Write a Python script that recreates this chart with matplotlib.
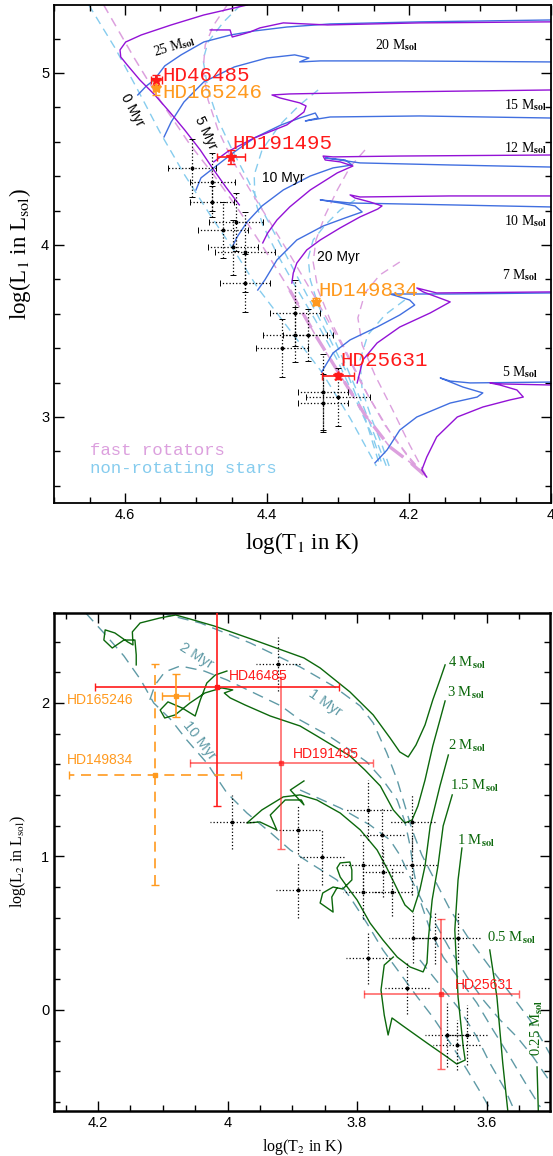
import numpy as np
import matplotlib
matplotlib.use("Agg")
import matplotlib.pyplot as plt
from matplotlib.ticker import MultipleLocator, FuncFormatter

plt.rcParams['font.family'] = ['Liberation Sans', 'DejaVu Sans']
plt.rcParams['mathtext.fontset'] = 'stix'

# ================= TOP PANEL DATA (log T1, log L1) =================
# non-rotating tracks
nr25_T = [4.582, 4.570, 4.559, 4.544, 4.521, 4.489, 4.451, 4.418, 4.372, 4.311, 4.185, 4.000]
nr25_L = [4.872, 4.924, 4.959, 5.041, 5.105, 5.180, 5.221, 5.244, 5.267, 5.285, 5.297, 5.308]
nr20_T = [4.545, 4.535, 4.517, 4.489, 4.446, 4.400, 4.361, 4.341, 4.354, 4.325, 4.213, 4.000]
nr20_L = [4.628, 4.715, 4.831, 4.948, 5.035, 5.087, 5.105, 5.087, 5.064, 5.070, 5.070, 5.064]
nr15_T = [4.500, 4.493, 4.475, 4.446, 4.418, 4.380, 4.354, 4.332, 4.328, 4.346, 4.311, 4.185, 4.000]
nr15_L = [4.320, 4.390, 4.448, 4.541, 4.622, 4.698, 4.738, 4.767, 4.738, 4.721, 4.744, 4.750, 4.738]
nr12_T = [4.449, 4.442, 4.428, 4.407, 4.377, 4.339, 4.307, 4.280, 4.290, 4.318, 4.269, 4.142, 4.000]
nr12_L = [3.988, 4.047, 4.134, 4.227, 4.320, 4.401, 4.448, 4.465, 4.494, 4.506, 4.477, 4.465, 4.453]
nr10_T = [4.413, 4.403, 4.386, 4.358, 4.321, 4.290, 4.266, 4.276, 4.297, 4.325, 4.283, 4.142, 4.000]
nr10_L = [3.738, 3.797, 3.913, 4.029, 4.110, 4.157, 4.192, 4.227, 4.244, 4.262, 4.244, 4.233, 4.221]
nr7_T = [4.323, 4.307, 4.283, 4.245, 4.213, 4.192, 4.199, 4.217, 4.227, 4.142, 4.000]
nr7_L = [3.262, 3.372, 3.448, 3.523, 3.593, 3.651, 3.680, 3.703, 3.715, 3.715, 3.721]
nr5_T = [4.248, 4.231, 4.213, 4.189, 4.142, 4.104, 4.096, 4.124, 4.156, 4.142, 4.114, 4.000]
nr5_L = [2.733, 2.808, 2.924, 3.000, 3.081, 3.116, 3.140, 3.174, 3.227, 3.209, 3.198, 3.203]

# fast-rotating tracks
rot25_T = [4.439, 4.458, 4.475, 4.494, 4.516, 4.537, 4.558, 4.579, 4.597, 4.606, 4.607, 4.599, 4.577, 4.535, 4.489, 4.428]
rot25_L = [4.233, 4.337, 4.436, 4.552, 4.669, 4.773, 4.872, 4.959, 5.047, 5.093, 5.134, 5.180, 5.221, 5.279, 5.337, 5.395]
rot20_T = [4.480, 4.452, 4.449, 4.438, 4.424, 4.410, 4.377, 4.315, 4.185, 4.000]
rot20_L = [5.250, 5.250, 5.209, 5.221, 5.238, 5.262, 5.291, 5.279, 5.291, 5.297]
rot15_T = [4.475, 4.456, 4.418, 4.372, 4.348, 4.345, 4.354, 4.382, 4.393, 4.368, 4.213, 4.000]
rot15_L = [4.483, 4.541, 4.622, 4.698, 4.773, 4.808, 4.826, 4.855, 4.872, 4.878, 4.890, 4.901]
rot12_T = [4.406, 4.399, 4.386, 4.368, 4.339, 4.301, 4.279, 4.297, 4.318, 4.321, 4.307, 4.213, 4.000]
rot12_L = [4.012, 4.070, 4.145, 4.221, 4.320, 4.419, 4.459, 4.483, 4.494, 4.517, 4.512, 4.517, 4.523]
rot10_T = [4.365, 4.363, 4.358, 4.344, 4.325, 4.297, 4.269, 4.244, 4.238, 4.255, 4.276, 4.283, 4.269, 4.142, 4.000]
rot10_L = [3.779, 3.837, 3.895, 3.971, 4.029, 4.099, 4.163, 4.209, 4.227, 4.250, 4.273, 4.291, 4.279, 4.285, 4.285]
rot7_T = [4.273, 4.265, 4.245, 4.213, 4.170, 4.142, 4.161, 4.180, 4.189, 4.161, 4.000]
rot7_L = [3.198, 3.331, 3.430, 3.523, 3.605, 3.669, 3.698, 3.727, 3.750, 3.721, 3.727]
rot5_T = [4.175, 4.182, 4.175, 4.161, 4.132, 4.096, 4.058, 4.039, 4.048, 4.072, 4.086, 4.068, 4.000]
rot5_L = [2.651, 2.692, 2.767, 2.884, 3.000, 3.058, 3.099, 3.116, 3.157, 3.186, 3.198, 3.192, 3.186]

# non-rotating isochrones
iso0_T = [4.651, 4.614, 4.582, 4.551, 4.516, 4.480, 4.445, 4.413, 4.368, 4.323, 4.283, 4.246]
iso0_L = [5.395, 5.145, 4.901, 4.657, 4.407, 4.174, 3.959, 3.750, 3.506, 3.262, 2.994, 2.715]
iso5_T = [4.437, 4.461, 4.483, 4.490, 4.483, 4.469, 4.449, 4.427, 4.403, 4.377, 4.349, 4.318, 4.286, 4.261, 4.241]
iso5_L = [5.395, 5.297, 5.180, 5.076, 4.901, 4.727, 4.552, 4.378, 4.174, 3.971, 3.750, 3.506, 3.244, 2.983, 2.715]
iso10_T = [4.328, 4.354, 4.382, 4.407, 4.418, 4.417, 4.406, 4.385, 4.361, 4.332, 4.301, 4.275, 4.252, 4.237]
iso10_L = [4.901, 4.814, 4.698, 4.552, 4.407, 4.262, 4.116, 3.942, 3.767, 3.564, 3.331, 3.099, 2.895, 2.715]
iso20_T = [4.276, 4.297, 4.318, 4.335, 4.342, 4.339, 4.328, 4.308, 4.286, 4.265, 4.246, 4.232]
iso20_L = [4.262, 4.203, 4.116, 4.029, 3.924, 3.797, 3.651, 3.477, 3.273, 3.070, 2.866, 2.715]
iso30_T = [4.206, 4.234, 4.258, 4.269, 4.266, 4.252, 4.238, 4.228]
iso30_L = [3.680, 3.593, 3.477, 3.331, 3.157, 2.983, 2.837, 2.715]

# fast-rotator isochrones
riso0_T = [4.630, 4.587, 4.551, 4.508, 4.475, 4.438, 4.403, 4.368, 4.332, 4.297, 4.262, 4.227, 4.199, 4.175]
riso0_L = [5.395, 5.087, 4.843, 4.581, 4.407, 4.192, 3.971, 3.738, 3.477, 3.244, 3.012, 2.826, 2.738, 2.651]
riso5_T = [4.456, 4.475, 4.487, 4.490, 4.483, 4.469, 4.449, 4.424, 4.396, 4.365, 4.332, 4.297, 4.266, 4.234, 4.199, 4.175]
riso5_L = [5.395, 5.279, 5.163, 5.017, 4.843, 4.669, 4.494, 4.320, 4.134, 3.924, 3.692, 3.436, 3.186, 2.953, 2.762, 2.651]
riso10_T = [4.262, 4.283, 4.301, 4.318, 4.331, 4.335, 4.328, 4.311, 4.286, 4.258, 4.227, 4.196, 4.175]
riso10_L = [4.552, 4.453, 4.320, 4.174, 4.029, 3.901, 3.738, 3.564, 3.360, 3.128, 2.913, 2.738, 2.651]
riso20_T = [4.213, 4.241, 4.262, 4.272, 4.266, 4.248, 4.223, 4.199, 4.175]
riso20_L = [3.901, 3.826, 3.721, 3.576, 3.419, 3.244, 3.041, 2.837, 2.651]

# observed stars (dotted crosses)
top_T = [4.506, 4.477, 4.477, 4.462, 4.448, 4.431, 4.431, 4.444, 4.361, 4.361, 4.342, 4.379, 4.321, 4.300, 4.321]
top_L = [4.448, 4.366, 4.250, 4.087, 3.988, 3.959, 3.779, 4.134, 3.605, 3.477, 3.477, 3.401, 3.145, 3.116, 3.081]
top_Terr = [0.034, 0.032, 0.031, 0.035, 0.035, 0.042, 0.035, 0.038, 0.035, 0.045, 0.035, 0.037, 0.035, 0.045, 0.035]
top_Lerr = [0.17, 0.17, 0.09, 0.16, 0.16, 0.23, 0.17, 0.17, 0.19, 0.16, 0.15, 0.17, 0.22, 0.17, 0.17]

# highlighted binaries (primary)
hl_names = ['HD46485', 'HD165246', 'HD191495', 'HD149834', 'HD25631']
hl_colors = ['#ff1a1a', '#ff9a1f', '#ff1a1a', '#ff9a1f', '#ff1a1a']
hl1_T = [4.556, 4.556, 4.451, 4.331, 4.300]
hl1_L = [4.959, 4.913, 4.512, 3.669, 3.238]
hl1_Terr = [0.008, 0.004, 0.020, 0.004, 0.022]
hl1_Lerr = [0.030, 0.040, 0.040, 0.020, 0.020]
hl1_lab_T = [4.548, 4.548, 4.449, 4.328, 4.297]
hl1_lab_L = [4.985, 4.887, 4.587, 3.738, 3.331]

# ================= BOTTOM PANEL DATA (log T2, log L2) =================
pms4_T = [3.664, 3.672, 3.683, 3.695, 3.709, 3.721, 3.734, 3.749, 3.775, 3.811, 3.857, 3.882, 3.959, 4.021,
          4.058, 4.080, 4.104, 4.135, 4.147, 4.146, 4.154, 4.174, 4.189, 4.191, 4.178, 4.160, 4.143, 4.141, 4.141]
pms4_L = [2.248, 2.150, 2.020, 1.857, 1.726, 1.648, 1.681, 1.772, 1.922, 2.072, 2.228, 2.293, 2.410, 2.502,
          2.547, 2.573, 2.554, 2.521, 2.463, 2.378, 2.397, 2.456, 2.476, 2.410, 2.358, 2.410, 2.410, 2.313, 2.248]
pms3_T = [3.664, 3.672, 3.683, 3.695, 3.706, 3.715, 3.726, 3.744, 3.764, 3.788, 3.811, 3.862, 3.888, 3.934,
          3.973, 3.996, 4.005, 3.992, 4.009, 4.035, 4.058, 4.081, 4.097, 4.104, 4.092, 4.070, 4.050, 4.042,
          4.032, 4.019, 4.001]
pms3_L = [2.013, 1.889, 1.720, 1.498, 1.329, 1.238, 1.218, 1.303, 1.459, 1.564, 1.655, 1.785, 1.850, 1.915,
          1.987, 2.033, 2.065, 2.085, 2.098, 2.065, 2.000, 1.922, 1.902, 1.954, 2.007, 1.967, 1.915, 2.020,
          2.130, 2.182, 2.208]
pms2_T = [3.659, 3.672, 3.687, 3.695, 3.703, 3.714, 3.726, 3.741, 3.754, 3.769, 3.795, 3.826, 3.862, 3.888,
          3.914, 3.947, 3.970, 3.950, 3.924, 3.934, 3.911, 3.886, 3.882, 3.903, 3.882]
pms2_L = [1.661, 1.459, 1.199, 0.938, 0.782, 0.638, 0.684, 0.814, 0.925, 1.042, 1.173, 1.283, 1.368, 1.401,
          1.388, 1.303, 1.218, 1.225, 1.173, 1.270, 1.368, 1.368, 1.336, 1.433, 1.492]
pms15_T = [3.653, 3.667, 3.675, 3.684, 3.690, 3.692, 3.698, 3.718, 3.738, 3.760, 3.780, 3.800, 3.815, 3.826,
           3.831, 3.826, 3.811, 3.808, 3.808, 3.822, 3.837, 3.853, 3.857, 3.837, 3.839, 3.831]
pms15_L = [1.401, 1.199, 0.938, 0.717, 0.456, 0.306, 0.248, 0.280, 0.345, 0.456, 0.567, 0.717, 0.801, 0.866,
           0.925, 0.958, 0.964, 0.912, 0.847, 0.788, 0.801, 0.762, 0.697, 0.638, 0.736, 0.795]
pms1_T = [3.638, 3.644, 3.649, 3.644, 3.636, 3.633, 3.646, 3.661, 3.692, 3.729, 3.746, 3.752, 3.758, 3.763, 3.758, 3.744]
pms1_L = [1.055, 0.847, 0.521, 0.085, -0.241, -0.326, -0.352, -0.306, -0.215, -0.104, -0.052, -0.163, -0.033,
          0.130, 0.293, 0.345]
pms05_T = [3.595, 3.584, 3.575, 3.567]
pms05_L = [0.391, 0.085, -0.345, -0.664]
pms025_T = [3.522, 3.520]
pms025_L = [-0.371, -0.664]

# PMS isochrones
biso1_T = [4.104, 4.042, 3.965, 3.888, 3.837, 3.795, 3.775, 3.754, 3.738, 3.726, 3.715, 3.700, 3.680, 3.656,
           3.626, 3.595, 3.564, 3.533, 3.510, 3.497]
biso1_L = [2.586, 2.521, 2.391, 2.235, 2.111, 1.980, 1.870, 1.674, 1.498, 1.329, 1.173, 1.010, 0.847, 0.651,
           0.456, 0.280, 0.111, -0.065, -0.228, -0.326]
biso2_T = [4.120, 4.112, 4.097, 4.073, 4.036, 4.001, 3.959, 3.917, 3.888, 3.846, 3.811, 3.785, 3.760, 3.738,
           3.726, 3.718, 3.712, 3.703, 3.687, 3.667, 3.641, 3.615, 3.590, 3.564, 3.541, 3.517]
biso2_L = [2.020, 2.117, 2.202, 2.241, 2.208, 2.150, 2.065, 1.980, 1.889, 1.792, 1.694, 1.616, 1.498, 1.368,
           1.225, 1.068, 0.893, 0.717, 0.521, 0.345, 0.195, 0.046, -0.130, -0.306, -0.469, -0.632]
biso5_T = [3.888, 3.826, 3.780, 3.749, 3.734, 3.718, 3.698, 3.676, 3.656, 3.630, 3.605, 3.579, 3.553, 3.528,
           3.507, 3.497]
biso5_L = [1.433, 1.316, 1.205, 1.107, 1.010, 0.866, 0.697, 0.541, 0.391, 0.215, 0.065, -0.065, -0.176, -0.306,
           -0.436, -0.502]
biso10_T = [4.219, 4.191, 4.160, 4.134, 4.114, 4.087, 4.063, 4.032, 4.001, 3.970, 3.933, 3.903, 3.873, 3.831,
            3.811, 3.785, 3.760, 3.734, 3.707, 3.683, 3.656, 3.630, 3.605, 3.592]
biso10_L = [2.586, 2.456, 2.306, 2.150, 2.000, 1.889, 1.759, 1.609, 1.414, 1.283, 1.153, 1.042, 0.958, 0.847,
            0.736, 0.567, 0.391, 0.241, 0.085, -0.046, -0.215, -0.391, -0.567, -0.664]
biso20_T = [3.703, 3.672, 3.641, 3.615, 3.595, 3.571, 3.556]
biso20_L = [0.326, 0.163, 0.000, -0.176, -0.345, -0.521, -0.664]

bot_T = [3.922, 3.993, 3.891, 3.854, 3.891, 3.783, 3.715, 3.761, 3.791, 3.715, 3.760, 3.791, 3.746, 3.714,
         3.680, 3.644, 3.783, 3.723, 3.661, 3.630, 3.646]
bot_L = [2.254, 1.225, 1.173, 0.997, 0.782, 1.303, 1.225, 1.140, 0.945, 0.945, 0.899, 0.769, 0.769, 0.469,
         0.469, 0.469, 0.339, 0.143, -0.163, -0.163, -0.228]
bot_Terr = [0.034, 0.034, 0.034, 0.034, 0.034, 0.036, 0.036, 0.034, 0.036, 0.039, 0.031, 0.031, 0.031, 0.036,
            0.034, 0.034, 0.034, 0.034, 0.034, 0.031, 0.036]
bot_Lerr = [0.176, 0.176, 0.16, 0.18, 0.18, 0.195, 0.18, 0.18, 0.16, 0.195, 0.16, 0.176, 0.16, 0.16, 0.17,
            0.17, 0.17, 0.17, 0.21, 0.195, 0.16]

# highlighted binaries (secondary)
hl2_T = [4.016, 4.080, 3.917, 4.112, 3.670]
hl2_L = [2.104, 2.046, 1.609, 1.531, 0.104]
hl2_Terr = [0.188, 0.021, 0.141, 0.133, 0.120]
hl2_Lerr = [0.775, 0.140, 0.560, 0.720, 0.490]
hl2_lab_T = [3.998, 4.248, 3.899, 4.248, 3.649]
hl2_lab_L = [2.176, 2.020, 1.668, 1.629, 0.163]

# ================= STYLE =================
PURPLE = '#9312d6'
BLUE = '#416fe0'
LBLUE = '#86ccee'
PINK = '#dca0de'
GREEN = '#0c680c'
TEAL = '#5f9aa6'

fig = plt.figure(figsize=(5.53, 11.56), dpi=100)
ax1 = fig.add_axes([54/553, 1-503/1156, 497/553, 498/1156])
ax2 = fig.add_axes([54/553, 1-1111/1156, 496/553, 498/1156])

serif = ['Liberation Serif', 'DejaVu Serif']
mono = ['Liberation Mono', 'DejaVu Sans Mono']

# ---------- top panel ----------
for T, L in [(iso0_T, iso0_L), (iso5_T, iso5_L), (iso10_T, iso10_L), (iso20_T, iso20_L), (iso30_T, iso30_L)]:
    ax1.plot(T, L, color=LBLUE, lw=1.0, dashes=(6, 4), zorder=1)
for T, L in [(riso5_T, riso5_L), (riso10_T, riso10_L), (riso20_T, riso20_L)]:
    ax1.plot(T, L, color=PINK, lw=1.0, dashes=(6, 4), zorder=1)
ax1.plot(riso0_T, riso0_L, color=PINK, lw=1.1, dashes=(6, 4), zorder=1)
rT = np.array(riso0_T); rL = np.array(riso0_L)
m = rL <= 3.75
ax1.plot(rT[m], rL[m], color=PINK, lw=2.4, dashes=(5, 3), zorder=1)

for T, L in [(nr25_T, nr25_L), (nr20_T, nr20_L), (nr15_T, nr15_L), (nr12_T, nr12_L),
             (nr10_T, nr10_L), (nr7_T, nr7_L), (nr5_T, nr5_L)]:
    ax1.plot(T, L, color=BLUE, lw=1.0, zorder=2)
for T, L in [(rot25_T, rot25_L), (rot20_T, rot20_L), (rot15_T, rot15_L), (rot12_T, rot12_L),
             (rot10_T, rot10_L), (rot7_T, rot7_L), (rot5_T, rot5_L)]:
    ax1.plot(T, L, color=PURPLE, lw=1.0, zorder=2)

eb = ax1.errorbar(top_T, top_L, xerr=top_Terr, yerr=top_Lerr, fmt='o', ms=1.8, color='black',
                  elinewidth=0.9, capsize=2, capthick=0.7, zorder=3)
for c in eb[2]:
    c.set_linestyle(':')

for i in range(len(hl_names)):
    ax1.errorbar(hl1_T[i], hl1_L[i], xerr=hl1_Terr[i], yerr=hl1_Lerr[i], fmt='*', ms=7,
                 color=hl_colors[i], elinewidth=1.2, capsize=3, zorder=5)
    ax1.text(hl1_lab_T[i], hl1_lab_L[i], hl_names[i], color=hl_colors[i], family=mono,
             fontsize=15, ha='left', va='center', zorder=6)

ax1.text(4.530, 5.157, r'25 M$_{\mathbf{sol}}$', rotation=17, ha='center', va='center', fontsize=10, family=serif)
ax1.text(4.217, 5.163, r'20 M$_{\mathbf{sol}}$', ha='center', va='center', fontsize=10, family=serif)
ax1.text(4.006, 4.814, r'15 M$_{\mathbf{sol}}$', ha='right', va='center', fontsize=10, family=serif)
ax1.text(4.006, 4.564, r'12 M$_{\mathbf{sol}}$', ha='right', va='center', fontsize=10, family=serif)
ax1.text(4.006, 4.140, r'10 M$_{\mathbf{sol}}$', ha='right', va='center', fontsize=10, family=serif)
ax1.text(4.018, 3.826, r'7 M$_{\mathbf{sol}}$', ha='right', va='center', fontsize=10, family=serif)
ax1.text(4.018, 3.262, r'5 M$_{\mathbf{sol}}$', ha='right', va='center', fontsize=10, family=serif)
ax1.text(4.589, 4.785, '0 Myr', rotation=-62, ha='center', va='center', fontsize=10)
ax1.text(4.487, 4.651, '5 Myr', rotation=-65, ha='center', va='center', fontsize=10)
ax1.text(4.377, 4.390, '10 Myr', ha='center', va='center', fontsize=10)
ax1.text(4.300, 3.930, '20 Myr', ha='center', va='center', fontsize=10)
ax1.text(4.649, 2.808, 'fast rotators', color=PINK, family=mono, fontsize=12.5, ha='left', va='center')
ax1.text(4.649, 2.703, 'non-rotating stars', color=LBLUE, family=mono, fontsize=12.5, ha='left', va='center')

ax1.set_xlim(4.7, 4.0)
ax1.set_ylim(2.5, 5.395)
ax1.xaxis.set_major_locator(MultipleLocator(0.2))
ax1.xaxis.set_minor_locator(MultipleLocator(0.05))
ax1.yaxis.set_major_locator(MultipleLocator(1.0))
ax1.yaxis.set_minor_locator(MultipleLocator(0.2))
fmt = FuncFormatter(lambda v, p: f'{v:g}')
ax1.xaxis.set_major_formatter(fmt)
ax1.yaxis.set_major_formatter(fmt)
ax1.set_xlabel(r'log(T$_1$ in K)', family=serif, fontsize=16.5, labelpad=6)
ax1.set_ylabel(r'log(L$_1$ in L$_{\mathrm{sol}}$)', family=serif, fontsize=16.5, labelpad=6)

# ---------- bottom panel ----------
for T, L in [(biso1_T, biso1_L), (biso2_T, biso2_L), (biso5_T, biso5_L), (biso10_T, biso10_L), (biso20_T, biso20_L)]:
    ax2.plot(T, L, color=TEAL, lw=1.0, dashes=(8, 5), zorder=1)
for T, L in [(pms4_T, pms4_L), (pms3_T, pms3_L), (pms2_T, pms2_L), (pms15_T, pms15_L),
             (pms1_T, pms1_L), (pms05_T, pms05_L), (pms025_T, pms025_L)]:
    ax2.plot(T, L, color=GREEN, lw=1.0, zorder=2)

eb = ax2.errorbar(bot_T, bot_L, xerr=bot_Terr, yerr=bot_Lerr, fmt='o', ms=1.8, color='black',
                  elinewidth=0.9, capsize=0, zorder=3)
for c in eb[2]:
    c.set_linestyle(':')

alphas = [1.0, 1.0, 0.65, 1.0, 0.65]
for i in range(len(hl_names)):
    eb = ax2.errorbar(hl2_T[i], hl2_L[i], xerr=hl2_Terr[i], yerr=hl2_Lerr[i], fmt='s', ms=3,
                      color=hl_colors[i], elinewidth=1.2, capsize=3, alpha=alphas[i], zorder=5)
    if hl_names[i] == 'HD149834':
        for c in eb[2]:
            c.set_linestyle((0, (6, 4)))
    ax2.text(hl2_lab_T[i], hl2_lab_L[i], hl_names[i], color=hl_colors[i], fontsize=10,
             ha='left', va='center', zorder=6)

ax2.text(3.849, 2.000, '1 Myr', color=TEAL, rotation=-35, ha='center', va='center', fontsize=10.5)
ax2.text(4.049, 2.306, '2 Myr', color=TEAL, rotation=-32, ha='center', va='center', fontsize=10.5)
ax2.text(4.044, 1.759, '10 Myr', color=TEAL, rotation=-52, ha='center', va='center', fontsize=10.5)
for lab, T, L in [('4', 3.659, 2.261), ('3', 3.661, 2.065), ('2', 3.659, 1.720),
                  ('1.5', 3.656, 1.459), ('1', 3.646, 1.101), ('0.5', 3.599, 0.469)]:
    ax2.text(T, L, lab + r' M$_{\mathbf{sol}}$', color=GREEN, ha='left', va='center', fontsize=10.5, family=serif)
ax2.text(3.522, -0.117, r'0.25 M$_{\mathbf{sol}}$', color=GREEN, rotation=90, ha='center', va='center',
         fontsize=10.5, family=serif)

ax2.set_xlim(4.268, 3.502)
ax2.set_ylim(-0.658, 2.586)
ax2.xaxis.set_major_locator(MultipleLocator(0.2))
ax2.xaxis.set_minor_locator(MultipleLocator(0.05))
ax2.yaxis.set_major_locator(MultipleLocator(1.0))
ax2.yaxis.set_minor_locator(MultipleLocator(0.2))
ax2.xaxis.set_major_formatter(fmt)
ax2.yaxis.set_major_formatter(fmt)
ax2.set_xlabel(r'log(T$_2$ in K)', family=serif, fontsize=11.5, labelpad=5)
ax2.set_ylabel(r'log(L$_2$ in L$_{\mathrm{sol}}$)', family=serif, fontsize=11.5, labelpad=9)

for ax, lw in [(ax1, 1.3), (ax2, 1.8)]:
    ax.tick_params(which='both', direction='in', top=True, right=True, labelsize=10.5, width=1.0)
    ax.tick_params(which='major', length=7)
    ax.tick_params(which='minor', length=4)
    for s in ax.spines.values():
        s.set_linewidth(lw)

fig.savefig('out.png', dpi=100)
